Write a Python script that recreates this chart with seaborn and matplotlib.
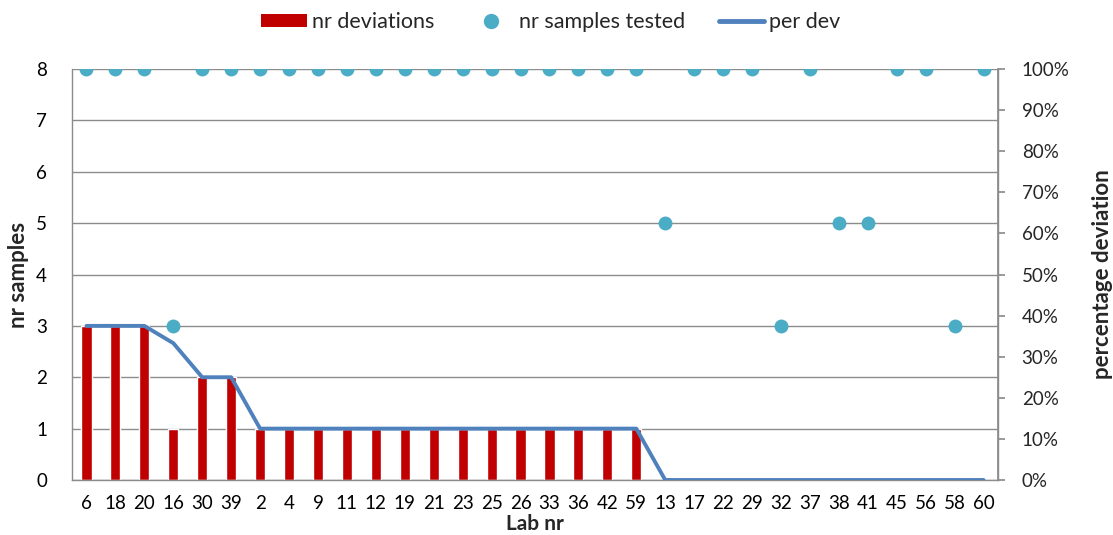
import numpy as np
import pandas as pd
import matplotlib
matplotlib.use("Agg")
import matplotlib.pyplot as plt
import seaborn as sns
from matplotlib.lines import Line2D
from matplotlib.patches import Patch
from matplotlib.ticker import FuncFormatter

labs = ["6", "18", "20", "16", "30", "39", "2", "4", "9", "11", "12", "19", "21", "23",
        "25", "26", "33", "36", "42", "59", "13", "17", "22", "29", "32", "37", "38",
        "41", "45", "56", "58", "60"]
nr_deviations = [3, 3, 3, 1, 2, 2, 1, 1, 1, 1, 1, 1, 1, 1, 1, 1, 1, 1, 1, 1,
                 0, 0, 0, 0, 0, 0, 0, 0, 0, 0, 0, 0]
nr_samples = [8, 8, 8, 3, 8, 8, 8, 8, 8, 8, 8, 8, 8, 8, 8, 8, 8, 8, 8, 8,
              5, 8, 8, 8, 3, 8, 5, 5, 8, 8, 3, 8]
per_dev = [37.5, 37.5, 37.5, 33.3, 25, 25, 12.5, 12.5, 12.5, 12.5, 12.5, 12.5, 12.5,
           12.5, 12.5, 12.5, 12.5, 12.5, 12.5, 12.5, 0, 0, 0, 0, 0, 0, 0, 0, 0, 0, 0, 0]

df = pd.DataFrame({"lab": labs, "dev": nr_deviations, "samples": nr_samples, "per": per_dev})

sns.set_theme(style="white")
plt.rcParams["font.family"] = ["Lato", "DejaVu Sans"]

BAR = "#C00000"
DOT = "#4BACC6"
LINE = "#4F81BD"
GRID = "#8C8C8C"
TICK_FS = 13.5
LAB_FS = 16
LEG_FS = 15.5

fig, ax = plt.subplots(figsize=(11.13, 5.35), dpi=100)
fig.subplots_adjust(left=0.0647, right=0.8967, top=0.871, bottom=0.1028)

sns.barplot(data=df, x="lab", y="dev", order=labs, color=BAR, width=0.35,
            saturation=1, ax=ax, zorder=2)
sns.stripplot(data=df, x="lab", y="samples", order=labs, color=DOT, jitter=False,
              size=10, linewidth=0, ax=ax, zorder=4)

ax.set_ylim(0, 8)
ax.set_xlim(-0.5, len(labs) - 0.5)
ax.set_yticks(range(0, 9))
ax.yaxis.grid(True, color=GRID, linewidth=1)
ax.set_axisbelow(True)
ax.spines["top"].set_visible(False)
for s in ["left", "bottom", "right"]:
    ax.spines[s].set_color(GRID)
    ax.spines[s].set_linewidth(1)
ax.tick_params(axis="y", length=0, labelsize=TICK_FS, colors="black", pad=18)
ax.tick_params(axis="x", length=0, labelsize=TICK_FS, colors="black", pad=11)
ax.set_ylabel("nr samples", fontsize=LAB_FS, fontweight="bold", labelpad=5)
ax.set_xlabel("Lab nr", fontsize=15, fontweight="bold", labelpad=1)

ax2 = ax.twinx()
sns.lineplot(x=np.arange(len(labs)), y=df["per"], color=LINE, linewidth=2.8, ax=ax2,
             zorder=3)
ax2.set_ylim(0, 100)
ax2.set_yticks(np.arange(0, 101, 10))
ax2.yaxis.set_major_formatter(FuncFormatter(lambda v, p: f"{int(v)}%"))
ax2.tick_params(axis="y", length=5, color=GRID, labelsize=TICK_FS, pad=12, direction="out")
for s in ["top", "left", "bottom"]:
    ax2.spines[s].set_visible(False)
ax2.spines["right"].set_color(GRID)
ax2.set_ylabel("percentage deviation", fontsize=LAB_FS, fontweight="bold", labelpad=16)
ax2.grid(False)

handles = [Patch(facecolor=BAR, edgecolor="none"),
           Line2D([], [], marker="o", linestyle="none", color=DOT, markersize=10),
           Line2D([], [], color=LINE, linewidth=3.5, solid_capstyle="round")]
fig.legend(handles, ["nr deviations", "nr samples tested", "per dev"], loc="center",
           bbox_to_anchor=(0.495, 0.959), ncol=3, frameon=False, fontsize=LEG_FS,
           handlelength=2.1, handleheight=0.6, columnspacing=1.6, handletextpad=0.23,
           borderpad=0)

fig.savefig("out.png", dpi=100)
